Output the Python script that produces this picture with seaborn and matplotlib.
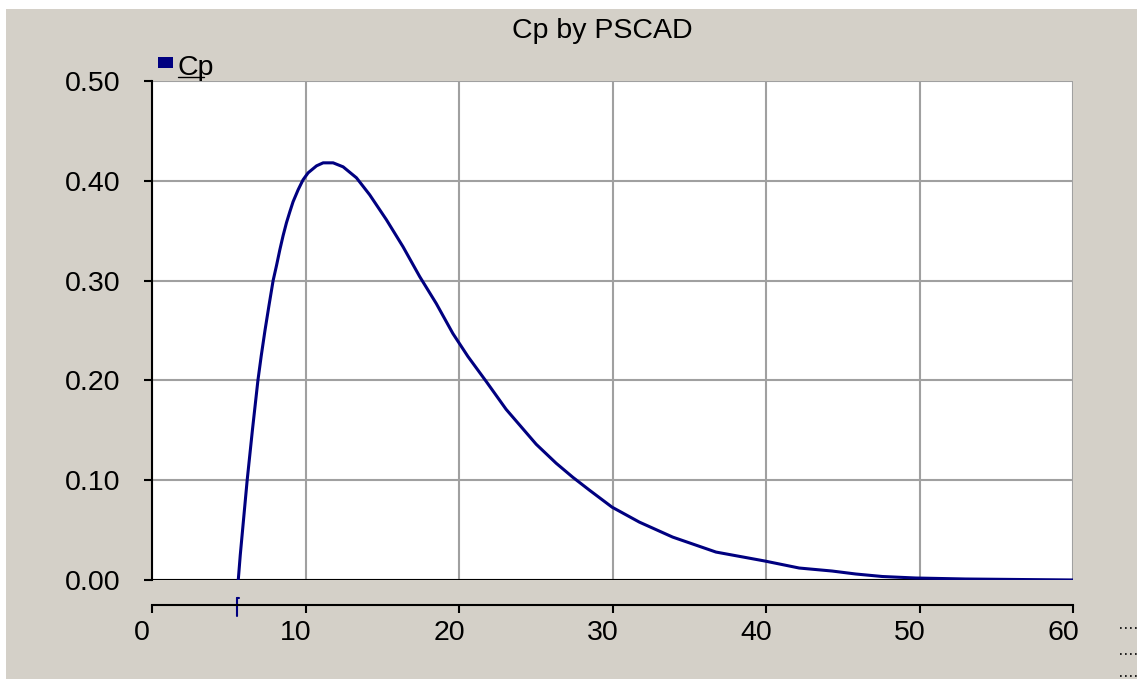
import numpy as np
import pandas as pd
import seaborn as sns
import matplotlib.pyplot as plt
from matplotlib.patches import Rectangle
from matplotlib.lines import Line2D
from matplotlib.transforms import ScaledTranslation, blended_transform_factory

# values
tsr = [5.62, 5.75, 5.90, 6.05, 6.20, 6.37, 6.54, 6.72, 6.90, 7.12, 7.36,
       7.62, 7.89, 8.11, 8.33, 8.54, 8.76, 8.98, 9.19, 9.52, 9.84, 10.17,
       10.72, 11.15, 11.80, 12.45, 13.32, 14.18, 15.27, 16.35, 17.44, 18.52,
       19.60, 20.58, 21.77, 23.07, 25.03, 26.33, 27.41, 28.50, 29.97, 31.75,
       33.92, 36.74, 39.93, 42.16, 44.30, 45.85, 47.58, 49.75, 53.0, 56.5, 60.0]
cp = [0.0, 0.025, 0.050, 0.075, 0.100, 0.125, 0.150, 0.175, 0.200, 0.225,
      0.250, 0.275, 0.300, 0.315, 0.331, 0.345, 0.358, 0.369, 0.379, 0.391,
      0.401, 0.408, 0.415, 0.418, 0.418, 0.414, 0.403, 0.386, 0.361, 0.334,
      0.304, 0.277, 0.247, 0.224, 0.199, 0.171, 0.136, 0.117, 0.103, 0.090,
      0.073, 0.058, 0.043, 0.028, 0.019, 0.012, 0.009, 0.006, 0.0035, 0.002,
      0.001, 0.0005, 0.0]
x_ticks = [0, 10, 20, 30, 40, 50, 60]
y_ticks = [0.0, 0.1, 0.2, 0.3, 0.4, 0.5]
cursor_x = 5.55
title = "Cp by PSCAD"
series_name = "Cp"

W, H = 1137, 679
BG = "#D4D0C8"
NAVY = "#000080"
FS = 20.5


def fx(px):
    return px / W


def fy(py):
    return 1 - py / H


sns.set_style("white")
plt.rcParams['font.family'] = ['Liberation Sans', 'DejaVu Sans']

fig = plt.figure(figsize=(W / 100, H / 100), dpi=100, facecolor="white")
fig.add_artist(Rectangle((fx(6), 0), 1 - fx(6), fy(9), transform=fig.transFigure,
                         facecolor=BG, edgecolor="none", zorder=-5))

ax = fig.add_axes([fx(152), fy(580), fx(1073) - fx(152), fy(81) - fy(580)])
ax.set_facecolor("white")

df = pd.DataFrame({"tsr": tsr, "cp": cp})
sns.lineplot(data=df, x="tsr", y="cp", ax=ax, color=NAVY, linewidth=2.2,
             sort=False, estimator=None, zorder=4)
ax.axhline(0, color="black", linewidth=1.5, zorder=3)

ax.set_xlim(0, 60)
ax.set_ylim(0, 0.5)
ax.set_xticks(x_ticks)
ax.set_yticks(y_ticks)
ax.set_yticklabels([f"{v:.2f}" for v in y_ticks])
ax.set_xlabel("")
ax.set_ylabel("")
ax.grid(True, color="#A0A0A0", linewidth=1.5)
ax.set_axisbelow(True)

for s in ["top", "right"]:
    ax.spines[s].set_visible(False)
ax.spines["left"].set_color("black")
ax.spines["left"].set_linewidth(1.5)
ax.spines["bottom"].set_color("black")
ax.spines["bottom"].set_linewidth(1.5)
ax.spines["bottom"].set_position(("outward", 18))

ax.tick_params(axis="y", direction="out", length=6, width=1.5, pad=17,
               labelsize=FS, colors="black", left=True)
ax.tick_params(axis="x", direction="out", length=6, width=1.5, pad=5,
               labelsize=FS, colors="black", bottom=True)
shift = ScaledTranslation(-10 / 100, 0, fig.dpi_scale_trans)
for lab in ax.get_xticklabels():
    lab.set_transform(lab.get_transform() + shift)

# cursor mark on the x axis
trans = blended_transform_factory(ax.transData, fig.transFigure)
ax.add_line(Line2D([cursor_x, cursor_x], [fy(598), fy(616)], transform=trans,
                   color=NAVY, linewidth=1.5, clip_on=False))
ax.add_line(Line2D([cursor_x, cursor_x + 0.12], [fy(598), fy(598)], transform=trans,
                   color=NAVY, linewidth=1.5, clip_on=False))

# title
fig.text(fx(602), fy(38), title, ha="center", va="baseline", fontsize=FS, color="black")

# legend
fig.add_artist(Rectangle((fx(158), fy(68)), fx(15), fy(57) - fy(68),
                         transform=fig.transFigure, facecolor=NAVY, edgecolor="none"))
fig.text(fx(178), fy(75), series_name, ha="left", va="baseline", fontsize=FS, color="black")
fig.add_artist(Line2D([fx(178), fx(204)], [fy(76.5), fy(76.5)],
                      transform=fig.transFigure, color="black", linewidth=1))

# truncated labels at the lower right
for py in [628, 654, 676]:
    fig.add_artist(Line2D([fx(1120), fx(1137)], [fy(py), fy(py)],
                          transform=fig.transFigure, color="black",
                          linewidth=1.2, linestyle=(0, (1, 2))))

fig.savefig("out.png", dpi=100, facecolor=fig.get_facecolor())
